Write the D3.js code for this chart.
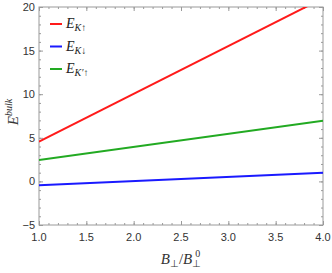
<!DOCTYPE html>
<html>
<head>
<meta charset="utf-8">
<script src="https://cdn.jsdelivr.net/npm/d3@7"></script>
<style>
body { margin: 0; background: #fff; }
text { font-family: "Liberation Sans", Arial, sans-serif; }
.math { font-family: "Liberation Serif", "Times New Roman", serif; font-style: italic; }
</style>
</head>
<body>
<svg width="332" height="273"></svg>
<script>
// field ratio at each end of the plotted range
var xVals = [1.0, 4.0];
var eKup = [4.55, 21.0];
var eKdown = [-0.45, 1.0];
var eKpUp = [2.45, 6.95];
var xTicks = [1.0, 1.5, 2.0, 2.5, 3.0, 3.5, 4.0];
var yTicks = [-5, 0, 5, 10, 15, 20];

var svg = d3.select("svg");
var pLeft = 39, pRight = 323, pTop = 7, pBottom = 225;

var x = d3.scaleLinear().domain([1, 4]).range([pLeft, pRight]);
var y = d3.scaleLinear().domain([-5, 20]).range([pBottom, pTop]);

var frameCol = "#9a9a9a";

svg.append("clipPath").attr("id", "clip")
  .append("rect")
  .attr("x", pLeft).attr("y", pTop)
  .attr("width", pRight - pLeft).attr("height", pBottom - pTop);

// minor ticks
var xMinor = d3.range(10, 41).map(function(d) { return d / 10; });
var yMinor = d3.range(-5, 21);

function tickAxis(axis, ticks, len) {
  axis.tickValues(ticks).tickSize(-len).tickFormat("");
  return axis;
}

var g = svg.append("g");

g.append("g").attr("transform", "translate(0," + pBottom + ")")
  .call(tickAxis(d3.axisBottom(x), xMinor, 2));
g.append("g").attr("transform", "translate(0," + pTop + ")")
  .call(tickAxis(d3.axisTop(x), xMinor, 2));
g.append("g").attr("transform", "translate(" + pLeft + ",0)")
  .call(tickAxis(d3.axisLeft(y), yMinor, 2));
g.append("g").attr("transform", "translate(" + pRight + ",0)")
  .call(tickAxis(d3.axisRight(y), yMinor, 2));

g.append("g").attr("transform", "translate(0," + pBottom + ")")
  .call(tickAxis(d3.axisBottom(x), xTicks, 4));
g.append("g").attr("transform", "translate(0," + pTop + ")")
  .call(tickAxis(d3.axisTop(x), xTicks, 4));
g.append("g").attr("transform", "translate(" + pLeft + ",0)")
  .call(tickAxis(d3.axisLeft(y), yTicks, 4));
g.append("g").attr("transform", "translate(" + pRight + ",0)")
  .call(tickAxis(d3.axisRight(y), yTicks, 4));

g.selectAll(".domain").remove();
g.selectAll(".tick line").attr("stroke", frameCol).attr("stroke-width", 1);

svg.append("rect")
  .attr("x", pLeft).attr("y", pTop)
  .attr("width", pRight - pLeft).attr("height", pBottom - pTop)
  .attr("fill", "none").attr("stroke", frameCol).attr("stroke-width", 1);

// tick labels
svg.selectAll(".xlab").data(xTicks).enter().append("text")
  .attr("x", function(d) { return x(d); })
  .attr("y", pBottom + 16)
  .attr("text-anchor", "middle")
  .attr("font-size", 11)
  .attr("fill", "#333")
  .text(function(d) { return d.toFixed(1); });

svg.selectAll(".ylab").data(yTicks).enter().append("text")
  .attr("x", pLeft - 4)
  .attr("y", function(d) { return y(d) + 4; })
  .attr("text-anchor", "end")
  .attr("font-size", 11)
  .attr("fill", "#333")
  .text(function(d) { return d < 0 ? "\u2212" + (-d) : d; });

// lines
var series = [
  { vals: eKup, color: "#ff1a1a" },
  { vals: eKdown, color: "#1a1aff" },
  { vals: eKpUp, color: "#22aa22" }
];

var line = d3.line()
  .x(function(d, i) { return x(xVals[i]); })
  .y(function(d) { return y(d); });

svg.append("g").attr("clip-path", "url(#clip)")
  .selectAll("path").data(series).enter().append("path")
  .attr("d", function(s) { return line(s.vals); })
  .attr("fill", "none")
  .attr("stroke", function(s) { return s.color; })
  .attr("stroke-width", 2);

// legend
var legend = [
  { color: "#ff1a1a", sub: "K", arrow: "\u2191" },
  { color: "#1a1aff", sub: "K", arrow: "\u2193" },
  { color: "#22aa22", sub: "K\u2032", arrow: "\u2191" }
];

var lg = svg.selectAll(".leg").data(legend).enter().append("g")
  .attr("transform", function(d, i) { return "translate(50," + (24 + i * 22.5) + ")"; });

lg.append("line")
  .attr("x1", 0).attr("x2", 12)
  .attr("stroke", function(d) { return d.color; })
  .attr("stroke-width", 2);

var lt = lg.append("text").attr("class", "math")
  .attr("x", 16).attr("y", 4)
  .attr("font-size", 14)
  .attr("fill", "#222");
lt.append("tspan").text("E");
lt.append("tspan").attr("font-size", 10).attr("dy", 3).text(function(d) { return d.sub; });
lt.append("tspan").attr("font-size", 10).attr("font-style", "normal").text(function(d) { return d.arrow; });

// axis titles
var yt = svg.append("text").attr("class", "math")
  .attr("transform", "translate(18," + ((pTop + pBottom) / 2 - 4) + ") rotate(-90)")
  .attr("text-anchor", "middle")
  .attr("font-size", 15)
  .attr("fill", "#333");
yt.append("tspan").text("E");
yt.append("tspan").attr("font-size", 10).attr("dy", -6).text("bulk");

var xt = svg.append("text").attr("class", "math")
  .attr("x", (pLeft + pRight) / 2).attr("y", 264)
  .attr("text-anchor", "middle")
  .attr("font-size", 15)
  .attr("fill", "#333");
xt.append("tspan").text("B");
xt.append("tspan").attr("font-size", 10).attr("font-style", "normal").attr("dy", 3).text("\u22a5");
xt.append("tspan").attr("font-style", "normal").attr("dy", -3).text("/");
xt.append("tspan").text("B");
xt.append("tspan").attr("font-size", 10).attr("font-style", "normal").attr("dy", 3).text("\u22a5");
xt.append("tspan").attr("font-size", 10).attr("font-style", "normal").attr("dx", -6).attr("dy", -10).text("0");
</script>
</body>
</html>
